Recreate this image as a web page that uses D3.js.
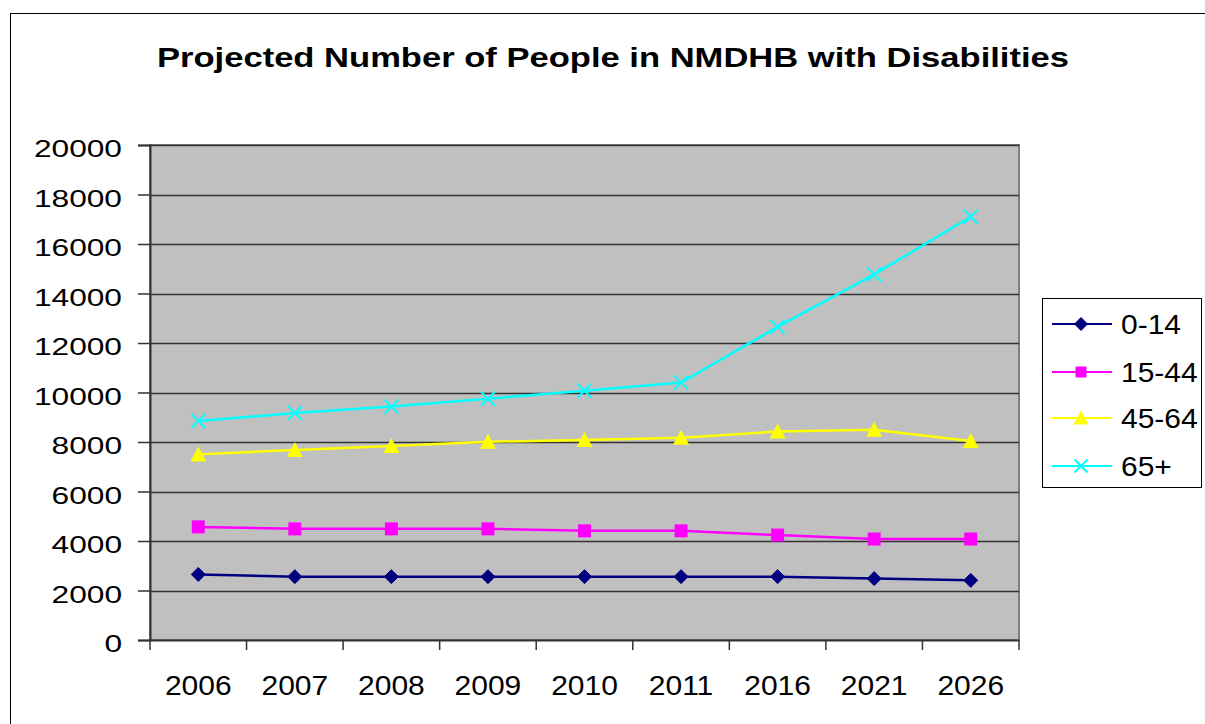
<!DOCTYPE html>
<html><head><meta charset="utf-8">
<script src="https://cdn.jsdelivr.net/npm/d3@7"></script>
<style>body{margin:0;background:#fff;}svg{display:block;font-family:Arial,"Liberation Sans",sans-serif;}</style>
</head><body>
<svg id="c" width="1205" height="724"></svg>
<script>
const title = "Projected Number of People in NMDHB with Disabilities";
const years = ["2006","2007","2008","2009","2010","2011","2016","2021","2026"];
const seriesNames = ["0-14","15-44","45-64","65+"];
const age0_14 = [2650,2560,2560,2560,2560,2560,2560,2480,2410];
const age15_44 = [4570,4490,4490,4490,4410,4410,4240,4080,4080];
const age45_64 = [7500,7680,7840,8010,8080,8170,8420,8490,8040];
const age65plus = [8850,9170,9430,9750,10070,10400,12650,14770,17100];
const yTicks = [0,2000,4000,6000,8000,10000,12000,14000,16000,18000,20000];
const colors = ["#000080","#FF00FF","#FFFF00","#00FFFF"];
const symbols = ["diamond","square","triangle","x"];

const svg = d3.select("#c");
const L=150, T=145, R=1019, B=640;
function stretch(sel, f) {
  sel.each(function(){
    const w = this.getComputedTextLength();
    d3.select(this).attr("textLength", w*f).attr("lengthAdjust","spacingAndGlyphs");
  });
}
// outer border
svg.append("rect").attr("x",10.5).attr("y",13.5).attr("width",1220).attr("height",740)
  .attr("fill","#fff").attr("stroke","#000").attr("stroke-width",1);

const tt = svg.append("text").attr("x",613).attr("y",67).attr("text-anchor","middle")
  .attr("font-size",28).attr("font-weight","bold").text(title);
tt.attr("textLength",912).attr("lengthAdjust","spacingAndGlyphs");

const x = d3.scaleBand().domain(years).range([L,R]);
const y = d3.scaleLinear().domain([0,20000]).range([B,T]);

svg.append("rect").attr("x",L).attr("y",T).attr("width",R-L).attr("height",B-T)
  .attr("fill","#C0C0C0").attr("stroke","#808080").attr("stroke-width",2);

// gridlines
svg.append("g").selectAll("line").data(yTicks.filter(d=>d>0)).join("line")
  .attr("x1",L).attr("x2",R).attr("y1",d=>Math.round(y(d))+0.5).attr("y2",d=>Math.round(y(d))+0.5)
  .attr("stroke","#333").attr("stroke-width",1.5);

// y axis
const ya = svg.append("g").attr("transform",`translate(${L},0)`)
  .call(d3.axisLeft(y).tickValues(yTicks).tickFormat(d3.format("d")).tickSize(12).tickPadding(16));
ya.select(".domain").attr("stroke","#333").attr("stroke-width",2);
ya.selectAll(".tick line").attr("stroke","#333").attr("stroke-width",1.5);
ya.selectAll("text").attr("font-size",24).attr("dy","0.48em").attr("font-family","Arial, 'Liberation Sans', sans-serif").attr("fill","#000");
stretch(ya.selectAll("text"), 1.32);

// x axis
const xa = svg.append("g").attr("transform",`translate(0,${B})`)
  .call(d3.axisBottom(x).tickSize(0).tickPadding(0));
xa.select(".domain").attr("stroke","#333").attr("stroke-width",2);
xa.selectAll("text").attr("font-size",27).attr("dy",null).attr("y",55).attr("font-family","Arial, 'Liberation Sans', sans-serif").attr("fill","#000");
stretch(xa.selectAll("text"), 1.11);
// x ticks at band boundaries
const bounds = years.map(d=>x(d)).concat([R]);
svg.append("g").selectAll("line").data(bounds).join("line")
  .attr("x1",d=>d).attr("x2",d=>d).attr("y1",B).attr("y2",B+10)
  .attr("stroke","#333").attr("stroke-width",1.5);

const data = [age0_14, age15_44, age45_64, age65plus];
const cx = d=>x(d)+x.bandwidth()/2;

function drawMarker(g, type, color, px, py, s) {
  if (type==="diamond") {
    g.append("path").attr("d",`M${px},${py-s}L${px+s},${py}L${px},${py+s}L${px-s},${py}Z`).attr("fill",color).attr("stroke",color);
  } else if (type==="square") {
    g.append("rect").attr("x",px-s).attr("y",py-s).attr("width",2*s).attr("height",2*s).attr("fill",color);
  } else if (type==="triangle") {
    g.append("path").attr("d",`M${px},${py-s-1}L${px+s+1},${py+s}L${px-s-1},${py+s}Z`).attr("fill",color);
  } else {
    g.append("path").attr("d",`M${px-s},${py-s}L${px+s},${py+s}M${px+s},${py-s}L${px-s},${py+s}`).attr("stroke",color).attr("stroke-width",2).attr("fill","none");
  }
}
const msize=[7,6.5,7,7];

data.forEach((vals,i)=>{
  const g = svg.append("g");
  const line = d3.line().x((d,j)=>cx(years[j])).y(d=>y(d));
  g.append("path").attr("d",line(vals)).attr("fill","none").attr("stroke",colors[i]).attr("stroke-width",2.5);
  vals.forEach((v,j)=>drawMarker(g,symbols[i],colors[i],cx(years[j]),y(v),msize[i]));
});

// legend
const lg = svg.append("g");
lg.append("rect").attr("x",1042.5).attr("y",298.5).attr("width",159).attr("height",189)
  .attr("fill","#fff").attr("stroke","#000").attr("stroke-width",1);
const rowsY=[324,372,418,466];
seriesNames.forEach((n,i)=>{
  lg.append("line").attr("x1",1052).attr("x2",1112).attr("y1",rowsY[i]).attr("y2",rowsY[i]).attr("stroke",colors[i]).attr("stroke-width",2);
  drawMarker(lg,symbols[i],colors[i],1081,rowsY[i],i===1?5.5:6.5);
  const t = lg.append("text").attr("x",1121).attr("y",rowsY[i]).attr("dy","0.36em").attr("font-size",27).text(n);
  stretch(t, 1.11);
});
</script>
</body></html>
